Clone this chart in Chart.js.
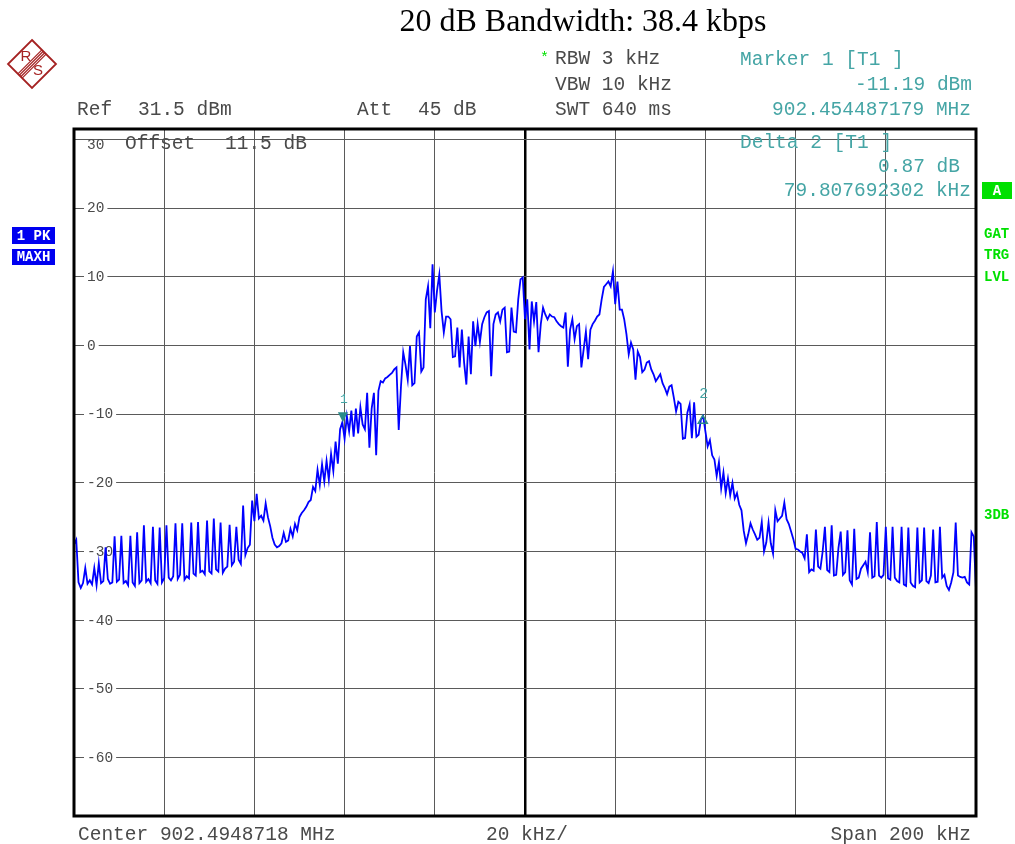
<!DOCTYPE html>
<html><head><meta charset="utf-8">
<script src="https://cdn.jsdelivr.net/npm/chart.js@4.4.1/dist/chart.umd.min.js"></script>
<style>html,body{margin:0;padding:0;background:#fff}#wrap{width:1015px;height:844px}</style>
</head><body><div id="wrap"><canvas id="c" width="1015" height="844"></canvas></div>
<script>
// ---- data (kHz offset from center, dBm) ----
const startKHz = -100;
const spanKHz = 200;
const levelDbm = [
-29.0,-28.3,-34.5,-35.3,-34.6,-32.4,-34.7,-34.2,-34.8,-32.4,
-34.9,-31.7,-34.6,-34.3,-29.4,-34.0,-34.7,-34.5,-27.8,-34.4,
-34.1,-27.7,-34.6,-34.3,-34.9,-27.7,-34.5,-35.0,-27.2,-34.6,
-34.2,-26.2,-34.4,-34.0,-34.6,-26.4,-34.2,-34.7,-26.5,-34.5,
-33.9,-26.2,-33.8,-34.2,-33.6,-25.9,-34.0,-33.4,-25.9,-34.1,
-33.6,-33.9,-25.8,-33.2,-33.5,-25.7,-33.0,-32.8,-33.3,-25.5,
-32.9,-33.2,-25.2,-32.6,-32.9,-25.8,-33.1,-32.5,-32.2,-26.1,
-32.0,-31.5,-26.4,-31.2,-31.8,-23.3,-30.5,-29.5,-29.0,
-22.6,-25.6,-21.6,-25.2,-24.8,-25.5,-23.0,-25.0,-26.3,-28.0,
-29.0,-29.4,-29.2,-28.8,-27.3,-28.6,-28.4,-26.7,-27.8,-26.0,
-26.9,-25.0,-24.4,-24.0,-23.5,-22.8,-22.5,-20.6,-21.2,-18.1,
-20.3,-17.3,-19.8,-16.8,-19.5,-15.8,-18.3,-14.0,-17.2,-12.2,
-11.2,-13.6,-10.3,-12.5,-9.5,-13.3,-9.2,-12.8,-9.0,-11.5,
-12.2,-6.9,-14.9,-9.2,-6.9,-16.0,-6.6,-5.2,-5.4,-4.8,
-4.6,-4.3,-4.0,-3.5,-3.2,-12.3,-6.0,
-1.0,-2.8,-5.0,-0.1,-5.8,-5.5,1.3,1.9,-3.8,-3.2,
6.7,8.6,2.5,11.8,4.8,8.0,10.3,5.0,1.9,4.2,
4.2,3.8,-1.7,-1.6,2.6,-3.2,2.3,-2.5,-5.7,1.3,
-4.2,3.5,-0.1,3.1,0.5,3.1,4.1,4.8,5.0,-4.5,
3.1,4.5,4.8,3.5,5.2,5.5,-1.0,-0.9,5.5,2.0,
1.9,6.7,9.6,9.9,
3.8,6.7,-0.6,6.4,3.5,6.3,-1.0,3.1,5.5,4.5,
3.8,4.5,4.2,4.1,3.5,3.1,2.8,2.6,4.8,-3.1,
2.3,3.8,0.9,2.8,3.1,-3.2,-0.6,2.0,-2.0,2.3,
3.1,3.6,4.2,4.5,6.7,8.5,8.9,9.3,8.6,10.8,
6.0,9.3,5.2,5.2,3.8,1.6,-1.3,0.4,-0.6,-5.0,
-0.9,-1.7,-3.9,-3.5,-2.5,-2.3,
-3.5,-4.2,-5.2,-4.7,-4.2,-5.5,-6.2,-7.1,-6.0,-5.8,
-7.6,-9.6,-8.2,-8.5,-13.6,-13.5,-9.8,-8.6,-13.5,-8.3,
-13.3,-13.0,-10.8,-10.3,-12.5,-14.7,-13.8,-16.0,-16.6,-19.0,
-17.0,-20.8,-18.5,-21.5,-19.4,-21.8,-20.0,-22.3,-21.5,-23.2,
-24.0,-27.0,-28.8,-27.5,-25.9,-26.8,-27.5,-28.3,-28.0,-25.7,
-30.0,-28.7,-25.8,-28.8,-30.3,-24.0,-25.6,-25.2,-24.8,-22.9,
-25.3,-26.0,-27.1,-28.2,-29.6,-29.7,-30.0,-30.2,-31.0,-27.5,
-33.0,-32.6,-32.8,-26.8,-32.2,-32.5,-30.0,-26.4,-32.7,-33.0,
-26.2,-33.5,-33.4,-29.5,-27.1,-33.4,-33.0,-26.9,-34.2,-34.8,
-26.7,-34.0,-33.8,-32.5,-32.0,-31.5,-33.0,-27.2,-33.8,-33.6,
-25.7,-33.5,-33.8,-33.4,-26.4,-33.9,-34.1,-26.4,-33.8,-34.3,
-34.5,-26.4,-34.8,-35.0,-26.5,-34.5,-35.0,-35.2,-26.5,-34.5,
-34.2,-26.5,-34.3,-34.6,-33.5,-26.8,-34.5,-34.4,-26.4,-33.8,
-33.4,-35.0,-35.6,-34.5,-33.0,-25.8,-33.5,-33.7,-33.8,-33.7,
-34.5,-34.8,-27.2,-27.8,-35.6
];
const xTicksKHz = [-100,-80,-60,-40,-20,0,20,40,60,80,100];
const yTicksDb = [-60,-50,-40,-30,-20,-10,0,10,20,30];
const yMinDb = -68.5, yMaxDb = 31.5;
const markerFreqKHz = [-40.38, 39.42];
const markerLevelDbm = [-11.19, -10.32];

// sweep points
const stepKHz = spanKHz / (levelDbm.length - 1);
const trace = levelDbm.map((v, i) => ({x: startKHz + i * stepKHz, y: v}));

const MONO = '"Liberation Mono", "DejaVu Sans Mono", monospace';
const TEAL = '#45a5a5';
const GREY = '#4a4a4a';
const GREEN = '#00e000';

function txt(ctx, s, x, y, o) {
  o = o || {};
  ctx.save();
  ctx.font = o.font || ('19.5px ' + MONO);
  ctx.fillStyle = o.color || GREY;
  ctx.textAlign = o.align || 'left';
  ctx.textBaseline = o.baseline || 'middle';
  ctx.fillText(s, x, y);
  ctx.restore();
}

const deco = {
  id: 'deco',
  beforeDraw(chart) {
    const ctx = chart.ctx;
    ctx.save(); ctx.fillStyle = '#fff'; ctx.fillRect(0, 0, chart.width, chart.height); ctx.restore();
  },
  beforeDatasetsDraw(chart) {
    const ctx = chart.ctx, ys = chart.scales.y;
    ctx.save();
    ctx.font = '14.5px ' + MONO;
    ctx.textBaseline = 'middle';
    yTicksDb.forEach(v => {
      const y = ys.getPixelForValue(v);
      const s = String(v);
      if (v === 30) { ctx.fillStyle = '#4a4a4a'; ctx.fillText(s, 87, y + 5.5); return; }
      const w = ctx.measureText(s).width;
      ctx.fillStyle = '#fff';
      ctx.fillRect(84, y - 6, w + 6, 12);
      ctx.fillStyle = '#4a4a4a';
      ctx.fillText(s, 87, y + 0.5);
    });
    ctx.restore();
    txt(ctx, 'Offset', 125, 144);
    txt(ctx, '11.5 dB', 225, 144);
    txt(ctx, 'Delta 2 [T1 ]', 740, 143, {color: TEAL});
    txt(ctx, '0.87 dB', 960, 167, {color: TEAL, align: 'right'});
    txt(ctx, '79.807692302 kHz', 971, 191, {color: TEAL, align: 'right'});
  },
  afterDatasetsDraw(chart) {
    const ctx = chart.ctx, xs = chart.scales.x, ys = chart.scales.y, a = chart.chartArea;
    // marker 1 (filled, pointing down)
    let x = xs.getPixelForValue(markerFreqKHz[0]), y = ys.getPixelForValue(markerLevelDbm[0]);
    ctx.save();
    ctx.fillStyle = '#2a8a8a';
    ctx.beginPath(); ctx.moveTo(x, y); ctx.lineTo(x - 5, y - 10); ctx.lineTo(x + 5, y - 10); ctx.closePath(); ctx.fill();
    ctx.restore();
    txt(ctx, '1', x + 1, y - 23, {color: TEAL, font: '13px ' + MONO, align: 'center'});
    // marker 2 (delta, outline, pointing up)
    x = xs.getPixelForValue(markerFreqKHz[1]); y = ys.getPixelForValue(markerLevelDbm[1]);
    ctx.save();
    ctx.strokeStyle = '#2a8a8a'; ctx.lineWidth = 1.5;
    ctx.beginPath(); ctx.moveTo(x, y - 1); ctx.lineTo(x - 4.5, y + 7); ctx.lineTo(x + 4.5, y + 7); ctx.closePath(); ctx.stroke();
    ctx.restore();
    txt(ctx, '2', x + 1, y - 22, {color: TEAL, font: '15px ' + MONO, align: 'center'});
    // frame
    ctx.save();
    ctx.strokeStyle = '#000'; ctx.lineWidth = 3;
    ctx.strokeRect(a.left, a.top, a.right - a.left, a.bottom - a.top);
    ctx.restore();
  },
  afterDraw(chart) {
    const ctx = chart.ctx;
    // title
    txt(ctx, '20 dB Bandwidth: 38.4 kbps', 583, 23, {font: '32px "Liberation Serif", "Times New Roman", serif', color: '#000', align: 'center'});
    // logo
    ctx.save();
    ctx.strokeStyle = '#a52222'; ctx.lineWidth = 1.8;
    ctx.beginPath(); ctx.moveTo(32, 40); ctx.lineTo(56, 64); ctx.lineTo(32, 88); ctx.lineTo(8, 64); ctx.closePath(); ctx.stroke();
    ctx.lineWidth = 1.2;
    [-3, -1, 1, 3].forEach(d => {
      const dx = d * 0.707, dy = d * 0.707;
      ctx.beginPath(); ctx.moveTo(20 + dx, 76 + dy); ctx.lineTo(44 + dx, 52 + dy); ctx.stroke();
    });
    ctx.fillStyle = '#a52222';
    ctx.font = '15px "Liberation Sans", sans-serif';
    ctx.textBaseline = 'middle'; ctx.textAlign = 'center';
    ctx.fillText('R', 26, 57);
    ctx.fillText('S', 38, 71);
    ctx.restore();
    // header
    txt(ctx, 'Ref', 77, 110);
    txt(ctx, '31.5 dBm', 138, 110);
    txt(ctx, 'Att', 357, 110);
    txt(ctx, '45 dB', 418, 110);
    txt(ctx, '*', 540, 58, {color: GREEN, font: '15px ' + MONO});
    txt(ctx, 'RBW 3 kHz', 555, 59);
    txt(ctx, 'VBW 10 kHz', 555, 85);
    txt(ctx, 'SWT 640 ms', 555, 110);
    txt(ctx, 'Marker 1 [T1 ]', 740, 60, {color: TEAL});
    txt(ctx, '-11.19 dBm', 972, 85, {color: TEAL, align: 'right'});
    txt(ctx, '902.454487179 MHz', 971, 110, {color: TEAL, align: 'right'});
    // footer
    txt(ctx, 'Center 902.4948718 MHz', 78, 835);
    txt(ctx, '20 kHz/', 486, 835);
    txt(ctx, 'Span 200 kHz', 971, 835, {align: 'right'});
    // left boxes
    ctx.save();
    ctx.fillStyle = '#0000f0';
    ctx.fillRect(12, 227, 43, 17);
    ctx.fillRect(12, 249, 43, 16);
    ctx.fillStyle = GREEN;
    ctx.fillRect(982, 182, 30, 17);
    ctx.restore();
    const boxFont = 'bold 14px ' + MONO;
    txt(ctx, '1 PK', 33.5, 236, {font: boxFont, color: '#fff', align: 'center'});
    txt(ctx, 'MAXH', 33.5, 257.5, {font: boxFont, color: '#fff', align: 'center'});
    txt(ctx, 'A', 997, 191, {font: boxFont, color: '#fff', align: 'center'});
    const gFont = 'bold 14px ' + MONO;
    txt(ctx, 'GAT', 984, 234, {font: gFont, color: GREEN});
    txt(ctx, 'TRG', 984, 255, {font: gFont, color: GREEN});
    txt(ctx, 'LVL', 984, 277, {font: gFont, color: GREEN});
    txt(ctx, '3DB', 984, 515, {font: gFont, color: GREEN});
  }
};

new Chart(document.getElementById('c'), {
  type: 'line',
  data: {
    datasets: [{
      data: trace,
      borderColor: '#0000ff',
      borderWidth: 1.8,
      pointRadius: 0,
      tension: 0,
      fill: false
    }]
  },
  options: {
    responsive: false,
    animation: false,
    devicePixelRatio: 1,
    layout: {padding: {left: 74, top: 129, right: 39, bottom: 28}},
    plugins: {legend: {display: false}, tooltip: {enabled: false}, title: {display: false}},
    scales: {
      x: {
        type: 'linear', min: startKHz, max: startKHz + spanKHz,
        ticks: {display: false},
        border: {display: false},
        grid: {
          drawTicks: false,
          color: c => (c.tick && c.tick.value === 0) ? '#000' : '#5a5a5a',
          lineWidth: c => (c.tick && c.tick.value === 0) ? 2.5 : 1
        },
        afterBuildTicks: s => { s.ticks = xTicksKHz.map(v => ({value: v})); },
        afterFit: s => { s.height = 0; }
      },
      y: {
        type: 'linear', min: yMinDb, max: yMaxDb,
        ticks: {display: false},
        border: {display: false},
        grid: {drawTicks: false, color: '#5a5a5a', lineWidth: 1},
        afterBuildTicks: s => { s.ticks = yTicksDb.map(v => ({value: v})); },
        afterFit: s => { s.width = 0; }
      }
    }
  },
  plugins: [deco]
});
</script>
</body></html>
